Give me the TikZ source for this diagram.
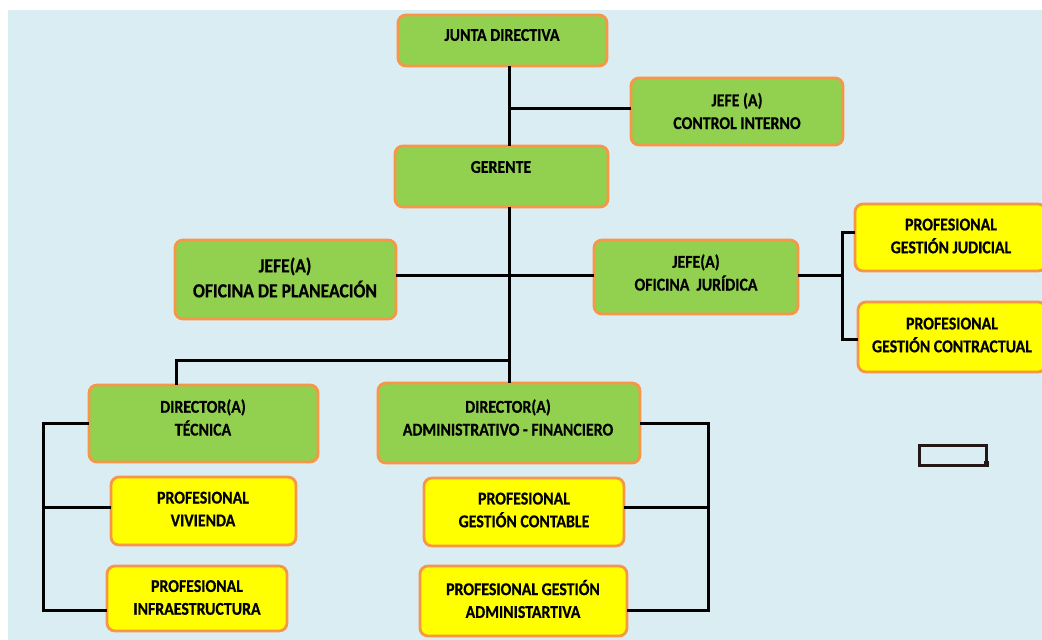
\documentclass[tikz,border=0pt]{standalone}
\usepackage{fontspec}
\setmainfont{Carlito}
\newfontfamily\cfb[FakeStretch=0.88,BoldFont={Carlito Bold},BoldFeatures={FakeBold=0.6}]{Carlito}
\definecolor{bgc}{HTML}{DAEDF3}
\definecolor{gfill}{HTML}{92D050}
\definecolor{yfill}{HTML}{FFFF00}
\definecolor{obord}{HTML}{F79646}
\definecolor{lnc}{HTML}{000000}
\definecolor{dk}{HTML}{231815}
\tikzset{
  box/.style={draw=obord, line width=2.8pt, rounded corners=8pt, inner sep=0pt, outer sep=0pt},
  gbox/.style={box, fill=gfill},
  ybox/.style={box, fill=yfill},
  txt/.style={inner sep=0pt, align=center, font=\cfb\bfseries\fontsize{18}{22.8}\selectfont, text=black},
  bigtxt/.style={txt, font=\cfb\bfseries\fontsize{20}{25}\selectfont},
  conn/.style={draw=lnc, line width=3pt}
}
\newcommand{\mkbox}[6]{%
  \node[#6, minimum width={#4-#2}, minimum height={#5-#3}] (#1) at ({(#2+#4)/2},{(#3+#5)/2}) {};}
\begin{document}
\begin{tikzpicture}[x=1pt,y=-1pt]
\useasboundingbox (0,0) rectangle (1042,640);
\fill[white] (0,0) rectangle (1042,640);
\fill[bgc] (8,10) rectangle (1042,640);
% junction coordinates
\coordinate (tA) at (509,108);
\coordinate (tB) at (509,275);
\coordinate (tC) at (509,360);
\coordinate (tD) at (176,360);
\coordinate (jx) at (842,275);
\coordinate (li) at (43,610);
\coordinate (lv) at (43,507);
\coordinate (ri) at (708,610);
\coordinate (rv) at (708,507);
% boxes
\mkbox{jd}{398}{15}{607}{66}{gbox}
\mkbox{ci}{631}{78}{843}{145}{gbox}
\mkbox{ger}{395}{146}{608}{207}{gbox}
\mkbox{pl}{175}{240}{396}{319}{gbox}
\mkbox{ju}{594}{240}{798}{314}{gbox}
\mkbox{gj}{855}{204}{1046}{271}{ybox}
\mkbox{gc}{858}{302}{1046}{372}{ybox}
\mkbox{dt}{89}{385}{318}{462}{gbox}
\mkbox{dad}{378}{383}{640}{463}{gbox}
\mkbox{pv}{111}{477}{296}{545}{ybox}
\mkbox{pi}{107}{566}{287}{631}{ybox}
\mkbox{pcn}{424}{478}{624}{546}{ybox}
\mkbox{pa}{420}{566}{627}{636}{ybox}
% lines
\draw[conn] (jd.south -| tA) -- (ger.north -| tA);
\draw[conn] (tA) -- (ci.west |- tA);
\draw[conn] (ger.south -| tA) -- (dad.north -| tA);
\draw[conn] (pl.east |- tB) -- (ju.west |- tB);
\draw[conn] (tC) -- (tD) -- (dt.north -| tD);
\draw[conn] (ju.east |- jx) -- (jx);
\draw[conn] (gj.west |- 0,232) -| (jx) |- (gc.west |- 0,339);
\draw[conn] (dt.west |- 0,423) -| (li) -- (li -| pi.west);
\draw[conn] (lv) -- (lv -| pv.west);
\draw[conn] (dad.east |- 0,423) -| (ri) -- (ri -| pa.east);
\draw[conn] (rv) -- (rv -| pcn.east);
% texts
\node[txt] (jdt) at (502,35) {JUNTA DIRECTIVA};
\node[txt] (cit) at (737,111) {JEFE (A)\\CONTROL INTERNO};
\node[txt] (gert) at (501,167) {GERENTE};
\node[bigtxt] (plt) at (285,277.5) {JEFE(A)\\OFICINA DE PLANEACIÓN};
\node[txt] (jut) at (696,272.5) {JEFE(A)\\OFICINA\ \ JURÍDICA};
\node[txt] (gjt) at (951,236) {PROFESIONAL\\GESTIÓN JUDICIAL};
\node[txt] (gct) at (952,335) {PROFESIONAL\\GESTIÓN CONTRACTUAL};
\node[txt] (dtt) at (203,417.5) {DIRECTOR(A)\\TÉCNICA};
\node[txt] (dadt) at (508,417.5) {DIRECTOR(A)\\ADMINISTRATIVO - FINANCIERO};
\node[txt] (pvt) at (203,509) {PROFESIONAL\\VIVIENDA};
\node[txt] (pit) at (197,597.5) {PROFESIONAL\\INFRAESTRUCTURA};
\node[txt] (pcnt) at (524,510) {PROFESIONAL\\GESTIÓN CONTABLE};
\node[txt] (pat) at (523,599) {PROFESIONAL GESTIÓN\\ADMINISTARTIVA};
% small rectangle
\draw[draw=dk, line width=3pt] (919,445) rectangle (986,465);
\fill[dk] (983.5,461) rectangle (989,467);
\end{tikzpicture}
\end{document}
